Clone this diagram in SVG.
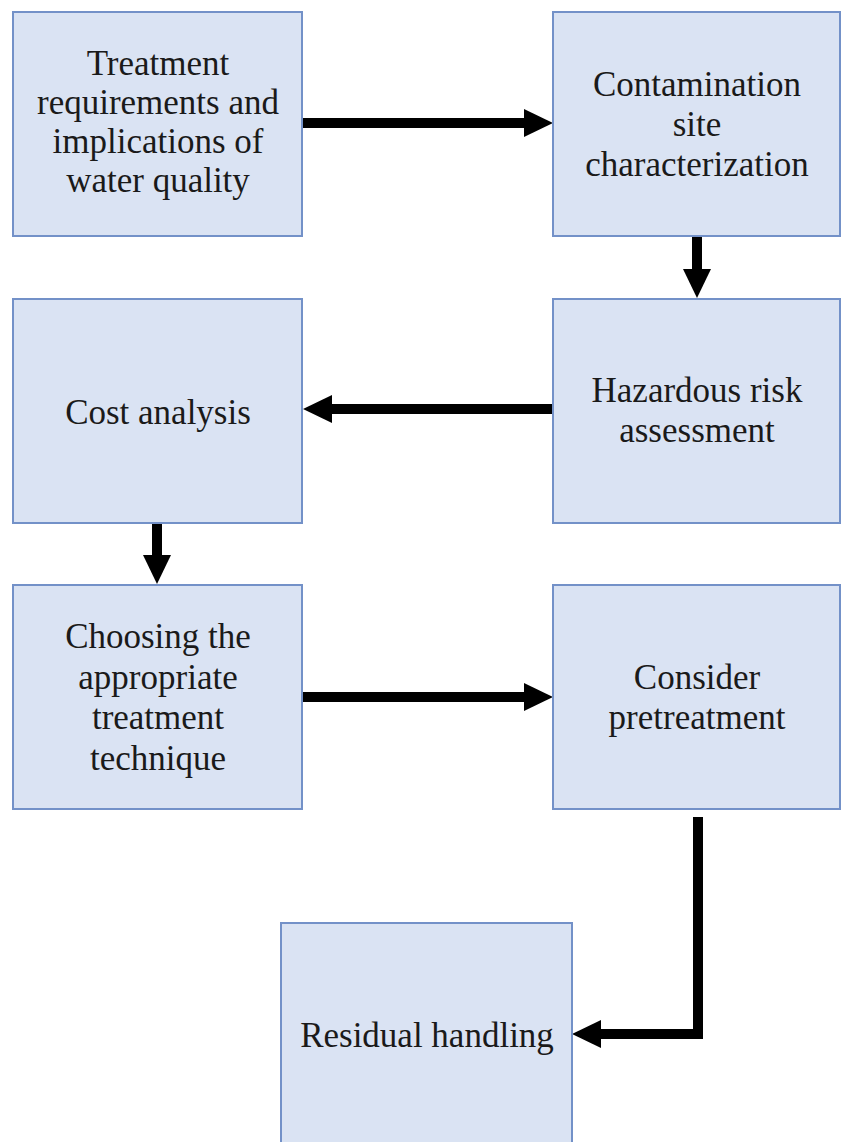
<svg xmlns="http://www.w3.org/2000/svg" width="843" height="1142" viewBox="0 0 843 1142">
<style>
.box{fill:#dae3f3;stroke:#7391c8;stroke-width:2}
.t{font-family:"Liberation Serif","Times New Roman",serif;font-size:35px;fill:#1a1a1a;text-anchor:middle}
.c{fill:none;stroke:#000;stroke-width:10}
</style>
<defs>
<marker id="ah" markerUnits="userSpaceOnUse" markerWidth="30" markerHeight="30" refX="1" refY="15" orient="auto" viewBox="0 0 30 30">
<path d="M0,1 L29,15 L0,29 Z" fill="#000"/>
</marker>
</defs>
<rect width="843" height="1142" fill="#fff"/>
<g id="connectors">
<line class="c" x1="303" y1="123" x2="525" y2="123" marker-end="url(#ah)"/>
<line class="c" x1="697" y1="237" x2="697" y2="270" marker-end="url(#ah)"/>
<line class="c" x1="553" y1="409" x2="331" y2="409" marker-end="url(#ah)"/>
<line class="c" x1="157" y1="523" x2="157" y2="556" marker-end="url(#ah)"/>
<line class="c" x1="303" y1="697" x2="525" y2="697" marker-end="url(#ah)"/>
<polyline class="c" points="698,817 698,1034 600,1034" marker-end="url(#ah)" stroke-linejoin="miter"/>
</g>
<g id="n1"><rect class="box" x="13" y="12" width="289" height="224"/>
<text class="t" x="158" y="75">Treatment</text><text class="t" x="158" y="114">requirements and</text><text class="t" x="158" y="153">implications of</text><text class="t" x="158" y="192">water quality</text></g>
<g id="n2"><rect class="box" x="553" y="12" width="287" height="224"/>
<text class="t" x="697" y="96">Contamination</text><text class="t" x="697" y="136">site</text><text class="t" x="697" y="176">characterization</text></g>
<g id="n3"><rect class="box" x="553" y="299" width="287" height="224"/>
<text class="t" x="697" y="402">Hazardous risk</text><text class="t" x="697" y="442">assessment</text></g>
<g id="n4"><rect class="box" x="13" y="299" width="289" height="224"/>
<text class="t" x="158" y="424">Cost analysis</text></g>
<g id="n5"><rect class="box" x="13" y="585" width="289" height="224"/>
<text class="t" x="158" y="648">Choosing the</text><text class="t" x="158" y="689">appropriate</text><text class="t" x="158" y="729">treatment</text><text class="t" x="158" y="770">technique</text></g>
<g id="n6"><rect class="box" x="553" y="585" width="287" height="224"/>
<text class="t" x="697" y="689">Consider</text><text class="t" x="697" y="729">pretreatment</text></g>
<g id="n7"><rect class="box" x="281" y="923" width="291" height="230"/>
<text class="t" x="427" y="1047">Residual handling</text></g>
</svg>
